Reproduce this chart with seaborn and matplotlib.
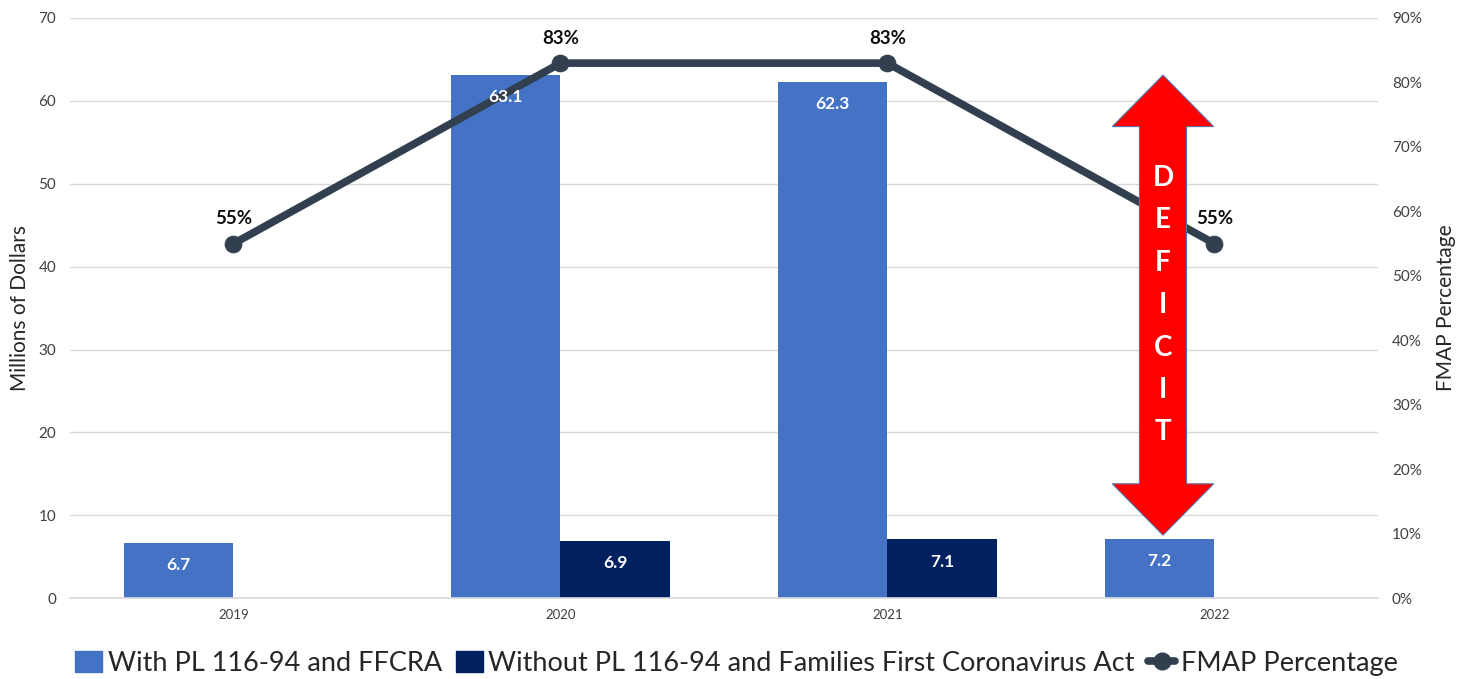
import matplotlib
matplotlib.use("Agg")
import matplotlib.pyplot as plt
from matplotlib.patches import Polygon, Patch
from matplotlib.lines import Line2D
import seaborn as sns
import pandas as pd
import numpy as np

years = ["2019", "2020", "2021", "2022"]
with_act = [6.7, 63.1, 62.3, 7.2]
without_act = [np.nan, 6.9, 7.1, np.nan]
fmap_pct = [55, 83, 83, 55]
series_names = ["With PL 116-94 and FFCRA",
                "Without PL 116-94 and Families First Coronavirus Act"]
line_name = "FMAP Percentage"
left_ticks = [0, 10, 20, 30, 40, 50, 60, 70]
right_ticks = [0, 10, 20, 30, 40, 50, 60, 70, 80, 90]

c_light = "#4472C4"
c_dark = "#002060"
c_line = "#323F4F"

sns.set_theme(style="white")
plt.rcParams['font.family'] = ['Lato', 'DejaVu Sans']

df = pd.DataFrame({
    "year": years * 2,
    "value": with_act + without_act,
    "series": [series_names[0]] * 4 + [series_names[1]] * 4,
})

fig = plt.figure(figsize=(14.73, 6.79), dpi=100)
ax = fig.add_axes([0.0475, 0.119, 0.888, 0.8545])

sns.barplot(data=df, x="year", y="value", hue="series", order=years,
            hue_order=series_names, palette=[c_light, c_dark], width=0.67,
            ax=ax, legend=False, saturation=1, errorbar=None, linewidth=0)

ax.set_ylim(0, 70)
ax.set_xlim(-0.5, 3.5)
ax.set_yticks(left_ticks)
ax.yaxis.grid(True, color="#D9D9D9", lw=1)
ax.set_axisbelow(True)
for s in ["top", "right", "left"]:
    ax.spines[s].set_visible(False)
ax.spines["bottom"].set_color("#D9D9D9")
ax.tick_params(axis="y", labelsize=11, colors="#404040", length=0, pad=10)
ax.tick_params(axis="x", labelsize=9.5, colors="#404040", length=0, pad=8)
ax.set_xlabel("")
ax.set_ylabel("Millions of Dollars", fontsize=15, color="#262626", labelpad=6)

ax2 = ax.twinx()
ax2.set_ylim(0, 90)
ax2.set_yticks(right_ticks)
ax2.set_yticklabels([f"{t}%" for t in right_ticks])
ax2.tick_params(axis="y", labelsize=11, colors="#404040", length=0, pad=10)
for s in ["top", "right", "left", "bottom"]:
    ax2.spines[s].set_visible(False)
ax2.set_ylabel(line_name, fontsize=15, color="#262626", labelpad=10)

line_df = pd.DataFrame({"x": np.arange(len(years)), "pct": fmap_pct})
sns.lineplot(data=line_df, x="x", y="pct", ax=ax2, color=c_line, lw=5.5,
             marker="o", markersize=12, markeredgecolor=c_line, zorder=3)
ax2.set_xlim(-0.5, 3.5)
ax2.set_xlabel("")

# bar value labels (drawn above the line)
for cont in ax.containers:
    for p in cont.patches:
        h = p.get_height()
        if np.isnan(h) or h == 0:
            continue
        ax2.annotate(f"{h:.1f}", (p.get_x() + p.get_width() / 2, h * 90 / 70),
                     xytext=(0, -16), textcoords="offset points",
                     ha="center", va="center", color="white",
                     fontsize=12.5, fontweight="bold", zorder=7)

# deficit arrow (spans the gap between 2020 peak and 2022 value)
bar0 = ax.containers[0].patches[3]
cx = bar0.get_x() + bar0.get_width() / 2 + 0.01
top = with_act[1]
bottom = with_act[3] + 0.4
shaft_w = 0.072
head_w = 0.155
head_l = 6.2
pts = [
    (cx, top),
    (cx + head_w, top - head_l),
    (cx + shaft_w, top - head_l),
    (cx + shaft_w, bottom + head_l),
    (cx + head_w, bottom + head_l),
    (cx, bottom),
    (cx - head_w, bottom + head_l),
    (cx - shaft_w, bottom + head_l),
    (cx - shaft_w, top - head_l),
    (cx - head_w, top - head_l),
]
arrow = Polygon(pts, closed=True, facecolor="#FF0000", edgecolor="#5B6FA8",
                lw=0.8, transform=ax.transData, zorder=5)
ax2.add_patch(arrow)
ax2.text(cx, (top + bottom) / 2 * 90 / 70, "D\nE\nF\nI\nC\nI\nT",
         transform=ax2.transData, ha="center", va="center", color="white",
         fontsize=20, fontweight="bold", linespacing=1.78, zorder=6)

for i, v in enumerate(fmap_pct):
    ax2.annotate(f"{v}%", (i, v), xytext=(0, 18), textcoords="offset points",
                 ha="center", va="center", fontsize=13.5, fontweight="bold",
                 color="#0D0D0D", zorder=6)

handles = [Patch(facecolor=c_light, edgecolor=c_light),
           Patch(facecolor=c_dark, edgecolor=c_dark),
           Line2D([0], [0], color=c_line, lw=5.5, marker="o", markersize=12)]
fig.legend(handles, series_names + [line_name], loc="center",
           bbox_to_anchor=(0.5, 0.023), ncol=3, frameon=False, fontsize=19.5,
           handlelength=1.0, handletextpad=0.2, columnspacing=0.5,
           labelcolor="#262626", handleheight=0.8)

fig.savefig("out.png", dpi=100)
